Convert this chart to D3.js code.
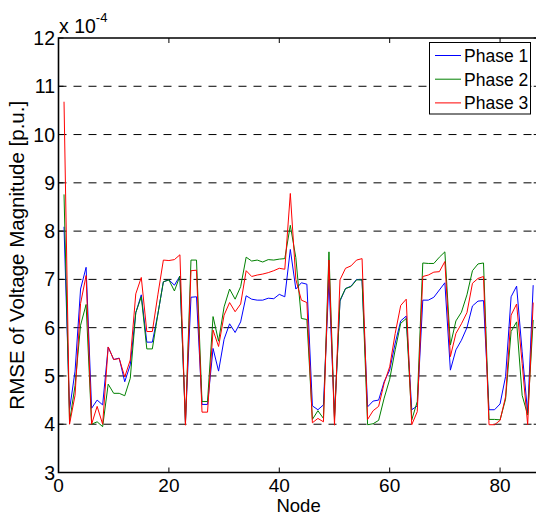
<!DOCTYPE html>
<html><head><meta charset="utf-8">
<script src="https://cdn.jsdelivr.net/npm/d3@7"></script>
<style>html,body{margin:0;padding:0;background:#fff;overflow:hidden;} svg{display:block;font-family:"Liberation Sans",Arial,Helvetica,sans-serif;}</style>
</head><body><svg id="c" width="536" height="516"></svg>
<script>
// RMSE values (x 1e-4) per node, nodes 1..86
const phase1 = [8.09,4.3,5.1,6.8,7.25,4.33,4.5,4.4,5.6,5.34,5.37,4.88,5.23,6.31,6.68,5.7,5.7,6.28,6.95,6.99,
  6.88,7.07,4.05,6.63,6.64,4.41,4.41,5.57,5.1,5.76,6.08,5.9,6.12,6.66,6.59,6.57,6.57,6.61,6.6,6.69,
  6.64,7.62,6.8,6.93,6.9,4.38,4.3,4.4,6.99,4.15,6.55,6.81,6.86,7.0,6.99,4.36,4.48,4.5,4.88,5.12,
  5.68,6.14,6.24,4.3,4.38,6.57,6.57,6.63,6.78,6.93,5.12,5.54,5.74,6.0,6.45,6.55,6.56,4.3,4.3,4.42,
  4.99,6.64,6.86,5.5,4.23,6.88];
const phase2 = [8.76,4.05,4.8,6.05,6.48,4.0,4.05,3.95,4.83,4.64,4.64,4.59,4.95,6.31,6.64,5.56,5.56,6.28,6.95,6.99,
  6.76,7.07,4.02,7.4,7.4,4.47,4.47,6.23,5.72,6.43,6.8,6.59,6.85,7.46,7.38,7.4,7.36,7.41,7.4,7.42,
  7.43,8.12,7.45,6.19,6.17,4.1,4.28,4.12,7.57,4.1,6.57,6.81,6.85,6.99,6.99,3.99,4.01,4.08,4.54,4.93,
  5.54,6.09,6.19,4.09,4.47,7.34,7.33,7.33,7.46,7.57,5.64,6.14,6.32,6.68,7.18,7.32,7.34,4.1,4.1,4.09,
  4.52,5.92,6.12,4.6,4.19,6.16];
const phase3 = [10.68,4.0,4.6,6.5,7.08,4.0,4.37,4.0,5.6,5.34,5.36,4.98,5.33,6.7,7.04,5.92,5.92,6.68,7.4,7.39,
  7.41,7.51,3.98,7.18,7.19,4.25,4.25,5.95,5.61,6.26,6.52,6.33,6.49,7.18,7.06,7.09,7.11,7.14,7.18,7.23,
  7.21,8.78,7.0,6.57,6.52,4.03,4.12,4.05,7.4,3.98,6.99,7.23,7.28,7.4,7.43,4.1,4.28,4.37,4.85,5.19,
  5.88,6.46,6.59,3.99,4.26,7.06,7.09,7.15,7.16,7.37,5.4,5.88,6.08,6.31,6.92,7.02,7.06,3.99,3.99,4.08,
  4.57,6.26,6.49,5.26,3.99,6.52];
const xTicks = [0,20,40,60,80];
const yTicks = [3,4,5,6,7,8,9,10,11,12];
const gridTicks = [4,5,6,7,8,9,10,11];
const seriesNames = ["Phase 1","Phase 2","Phase 3"];
const seriesColors = ["#0000ff","#008000","#ff0000"];
const xLabel = "Node";
const yLabel = "RMSE of Voltage Magnitude [p.u.]";

const svg = d3.select("#c");
const L = 58.5, R = 538.7, T = 38, B = 472.5;
const x = d3.scaleLinear().domain([0,87]).range([L,R]);
const y = d3.scaleLinear().domain([3,12]).range([B,T]);

svg.append("defs").append("clipPath").attr("id","pc")
  .append("rect").attr("x",L).attr("y",T).attr("width",R-L).attr("height",B-T);

// grid
svg.append("g").selectAll("line").data(gridTicks).join("line")
  .attr("x1",L).attr("x2",R).attr("y1",d=>y(d)).attr("y2",d=>y(d))
  .attr("stroke","#000").attr("stroke-width",1).attr("stroke-dasharray","8,7");

// series
const series = [phase1, phase2, phase3];
const line = d3.line().x((d,i)=>x(i+1)).y(d=>y(d));
const gl = svg.append("g").attr("clip-path","url(#pc)");
series.forEach((s,k)=>{
  gl.append("path").datum(s).attr("d",line).attr("fill","none")
    .attr("stroke",seriesColors[k]).attr("stroke-width",1);
});

// axes box
const ax = svg.append("g").attr("stroke","#000").attr("stroke-width",1.6).attr("fill","none");
ax.append("path").attr("d",`M${R},${T}H${L}V${B}H${R}V${T}`);

// ticks (inward)
const tl = 5;
const tg = svg.append("g").attr("stroke","#000").attr("stroke-width",1);
xTicks.forEach(t=>{
  tg.append("line").attr("x1",x(t)).attr("x2",x(t)).attr("y1",B).attr("y2",B-tl);
  tg.append("line").attr("x1",x(t)).attr("x2",x(t)).attr("y1",T).attr("y2",T+tl);
});
yTicks.forEach(t=>{
  tg.append("line").attr("x1",L).attr("x2",L+tl).attr("y1",y(t)).attr("y2",y(t));
  tg.append("line").attr("x1",R).attr("x2",R-tl).attr("y1",y(t)).attr("y2",y(t));
});

// tick labels
svg.append("g").selectAll("text").data(yTicks).join("text")
  .attr("x",55).attr("y",d=>y(d)+7).attr("text-anchor","end")
  .attr("font-size",19.5).attr("fill","#000").text(d=>d);
svg.append("g").selectAll("text").data(xTicks).join("text")
  .attr("x",d=>x(d)).attr("y",491.5).attr("text-anchor","middle")
  .attr("font-size",19).attr("fill","#000").text(d=>d);

// exponent label
const ex = svg.append("text").attr("x",59).attr("y",33).attr("font-size",19.5).attr("fill","#000");
ex.append("tspan").text("x 10");
ex.append("tspan").attr("font-size",13).attr("dy",-11).text("-4");

// axis labels
svg.append("text").attr("x",(L+R)/2).attr("y",512).attr("text-anchor","middle")
  .attr("font-size",18.5).attr("fill","#000").text(xLabel);
svg.append("text").attr("transform",`translate(24,${(T+B)/2}) rotate(-90)`)
  .attr("text-anchor","middle").attr("font-size",20.5).attr("fill","#000").text(yLabel);

// legend
const lg = svg.append("g");
lg.append("rect").attr("x",429.5).attr("y",42.5).attr("width",101).attr("height",71.5)
  .attr("fill","#fff").attr("stroke","#000").attr("stroke-width",1);
seriesNames.forEach((n,k)=>{
  const yy = 55.5 + k*23.7;
  lg.append("line").attr("x1",435).attr("x2",461).attr("y1",yy).attr("y2",yy)
    .attr("stroke",seriesColors[k]).attr("stroke-width",1);
  lg.append("text").attr("x",464).attr("y",yy+6.5).attr("font-size",17.5).attr("fill","#000").text(n);
});
</script></body></html>
